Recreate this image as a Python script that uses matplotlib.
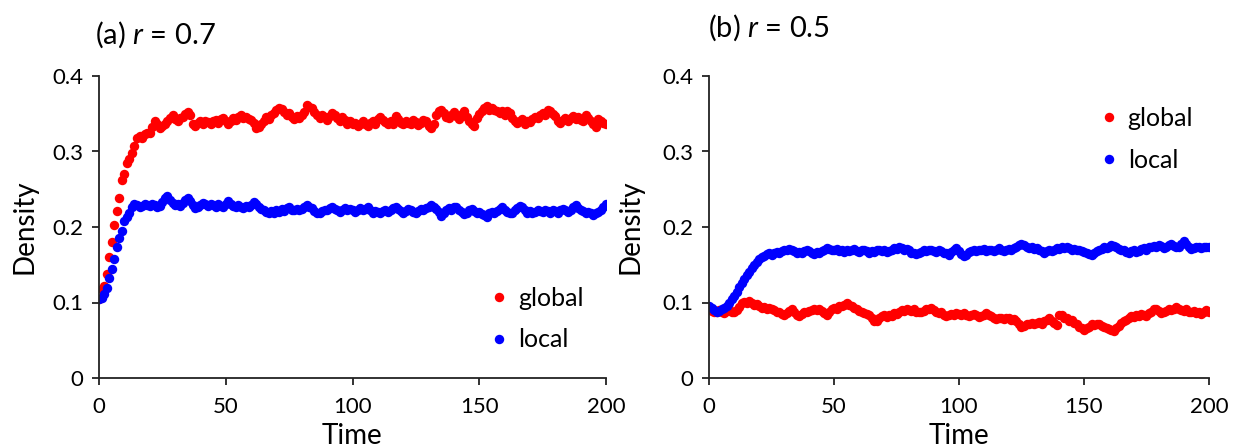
import numpy as np
import matplotlib
matplotlib.use("Agg")
import matplotlib.pyplot as plt

plt.rcParams['font.family'] = ['Lato', 'DejaVu Sans']
plt.rcParams['mathtext.fontset'] = 'custom'
plt.rcParams['mathtext.rm'] = 'Lato'
plt.rcParams['mathtext.it'] = 'Lato:italic'

time = np.arange(0, 201)

# (a) r = 0.7
global_a = [
    0.105, 0.118, 0.122, 0.138, 0.160, 0.180, 0.203, 0.221, 0.239, 0.262,
    0.270, 0.285, 0.290, 0.298, 0.307, 0.318, 0.320, 0.318, 0.323, 0.325,
    0.324, 0.333, 0.340, 0.336, 0.331, 0.334, 0.337, 0.341, 0.345, 0.348,
    0.343, 0.341, 0.344, 0.346, 0.350, 0.352, 0.349, 0.336, 0.334, 0.338,
    0.340, 0.337, 0.341, 0.339, 0.336, 0.340, 0.342, 0.338, 0.343, 0.345,
    0.341, 0.337, 0.340, 0.344, 0.342, 0.346, 0.348, 0.344, 0.346, 0.343,
    0.342, 0.338, 0.331, 0.333, 0.337, 0.341, 0.346, 0.343, 0.348, 0.351,
    0.355, 0.357, 0.356, 0.352, 0.348, 0.351, 0.346, 0.343, 0.347, 0.344,
    0.349, 0.352, 0.361, 0.359, 0.357, 0.352, 0.348, 0.345, 0.349, 0.346,
    0.342, 0.347, 0.351, 0.348, 0.344, 0.340, 0.346, 0.342, 0.337, 0.340,
    0.336, 0.338, 0.334, 0.336, 0.340, 0.337, 0.334, 0.338, 0.341, 0.337,
    0.343, 0.346, 0.342, 0.339, 0.336, 0.340, 0.337, 0.347, 0.343, 0.338,
    0.336, 0.341, 0.338, 0.336, 0.342, 0.339, 0.335, 0.338, 0.342, 0.340,
    0.334, 0.331, 0.337, 0.349, 0.353, 0.355, 0.351, 0.346, 0.344, 0.349,
    0.352, 0.347, 0.343, 0.350, 0.353, 0.346, 0.341, 0.337, 0.334, 0.345,
    0.350, 0.354, 0.358, 0.360, 0.355, 0.357, 0.355, 0.353, 0.351, 0.354,
    0.349, 0.353, 0.351, 0.345, 0.340, 0.338, 0.341, 0.343, 0.337, 0.340,
    0.339, 0.343, 0.346, 0.344, 0.348, 0.351, 0.349, 0.355, 0.353, 0.350,
    0.347, 0.341, 0.338, 0.342, 0.345, 0.341, 0.344, 0.347, 0.343, 0.346,
    0.342, 0.340, 0.349, 0.344, 0.341, 0.336, 0.333, 0.343, 0.340, 0.338,
    0.336,
]
local_a = [
    0.104, 0.106, 0.111, 0.119, 0.133, 0.145, 0.158, 0.174, 0.186, 0.195,
    0.208, 0.213, 0.219, 0.226, 0.231, 0.229, 0.226, 0.228, 0.231, 0.229,
    0.228, 0.230, 0.229, 0.226, 0.228, 0.233, 0.238, 0.241, 0.236, 0.232,
    0.229, 0.231, 0.228, 0.232, 0.236, 0.238, 0.234, 0.229, 0.225, 0.227,
    0.229, 0.232, 0.230, 0.228, 0.231, 0.229, 0.227, 0.230, 0.228, 0.226,
    0.231, 0.234, 0.231, 0.228, 0.226, 0.229, 0.227, 0.225, 0.228, 0.226,
    0.229, 0.233, 0.230, 0.226, 0.224, 0.223, 0.220, 0.218, 0.221, 0.219,
    0.222, 0.220, 0.224, 0.221, 0.225, 0.227, 0.223, 0.222, 0.224, 0.223,
    0.224, 0.226, 0.229, 0.227, 0.225, 0.221, 0.219, 0.218, 0.221, 0.223,
    0.222, 0.225, 0.227, 0.224, 0.222, 0.220, 0.223, 0.225, 0.222, 0.224,
    0.222, 0.220, 0.223, 0.225, 0.222, 0.224, 0.226, 0.222, 0.219, 0.221,
    0.220, 0.218, 0.221, 0.223, 0.220, 0.222, 0.225, 0.227, 0.224, 0.221,
    0.219, 0.221, 0.224, 0.222, 0.220, 0.218, 0.221, 0.224, 0.222, 0.225,
    0.227, 0.229, 0.226, 0.224, 0.220, 0.214, 0.218, 0.222, 0.225, 0.223,
    0.226, 0.227, 0.223, 0.220, 0.217, 0.219, 0.222, 0.224, 0.221, 0.219,
    0.220, 0.217, 0.216, 0.213, 0.218, 0.220, 0.218, 0.221, 0.224, 0.226,
    0.223, 0.220, 0.218, 0.219, 0.222, 0.225, 0.228, 0.226, 0.222, 0.219,
    0.221, 0.219, 0.220, 0.222, 0.221, 0.220, 0.222, 0.221, 0.219, 0.222,
    0.221, 0.219, 0.222, 0.224, 0.222, 0.220, 0.223, 0.227, 0.229, 0.225,
    0.222, 0.221, 0.219, 0.220, 0.218, 0.216, 0.218, 0.220, 0.223, 0.227,
    0.231,
]

# (b) r = 0.5
global_b = [
    0.092, 0.089, 0.087, 0.088, 0.090, 0.088, 0.086, 0.089, 0.091, 0.088,
    0.087, 0.090, 0.094, 0.099, 0.101, 0.100, 0.102, 0.099, 0.097, 0.098,
    0.095, 0.093, 0.094, 0.092, 0.093, 0.091, 0.090, 0.088, 0.087, 0.085,
    0.084, 0.086, 0.089, 0.091, 0.088, 0.084, 0.082, 0.085, 0.088, 0.087,
    0.089, 0.090, 0.092, 0.090, 0.091, 0.089, 0.086, 0.084, 0.087, 0.091,
    0.093, 0.092, 0.095, 0.096, 0.097, 0.099, 0.097, 0.095, 0.093, 0.091,
    0.089, 0.088, 0.086, 0.085, 0.083, 0.080, 0.076, 0.075, 0.079, 0.082,
    0.083, 0.081, 0.084, 0.082, 0.086, 0.085, 0.088, 0.090, 0.089, 0.091,
    0.090, 0.089, 0.091, 0.088, 0.087, 0.088, 0.089, 0.091, 0.092, 0.093,
    0.090, 0.088, 0.086, 0.087, 0.084, 0.082, 0.083, 0.085, 0.084, 0.086,
    0.085, 0.084, 0.086, 0.083, 0.082, 0.084, 0.085, 0.083, 0.081, 0.082,
    0.084, 0.086, 0.084, 0.082, 0.080, 0.078, 0.080, 0.079, 0.078, 0.080,
    0.079, 0.077, 0.078, 0.076, 0.072, 0.068, 0.069, 0.072, 0.071, 0.073,
    0.072, 0.073, 0.074, 0.072, 0.075, 0.077, 0.080, 0.076, 0.073, 0.070,
    0.084, 0.083, 0.080, 0.079, 0.076, 0.077, 0.073, 0.071, 0.068, 0.066,
    0.064, 0.066, 0.068, 0.071, 0.070, 0.072, 0.071, 0.069, 0.068, 0.066,
    0.065, 0.063, 0.062, 0.066, 0.069, 0.073, 0.076, 0.077, 0.079, 0.082,
    0.081, 0.083, 0.082, 0.085, 0.083, 0.082, 0.086, 0.088, 0.091, 0.092,
    0.089, 0.086, 0.087, 0.089, 0.091, 0.090, 0.092, 0.094, 0.092, 0.090,
    0.089, 0.091, 0.088, 0.087, 0.089, 0.086, 0.087, 0.085, 0.087, 0.090,
    0.088,
]
local_b = [
    0.096, 0.093, 0.090, 0.088, 0.089, 0.091, 0.093, 0.096, 0.100, 0.104,
    0.108, 0.114, 0.120, 0.126, 0.131, 0.137, 0.141, 0.146, 0.150, 0.153,
    0.157, 0.160, 0.162, 0.164, 0.165, 0.163, 0.165, 0.167, 0.166, 0.168,
    0.170, 0.169, 0.171, 0.170, 0.168, 0.166, 0.167, 0.165, 0.168, 0.170,
    0.168, 0.166, 0.164, 0.167, 0.165, 0.168, 0.170, 0.172, 0.171, 0.169,
    0.170, 0.171, 0.168, 0.169, 0.167, 0.170, 0.168, 0.169, 0.171, 0.168,
    0.167, 0.169, 0.170, 0.168, 0.166, 0.168, 0.167, 0.169, 0.170, 0.168,
    0.169, 0.167, 0.168, 0.170, 0.172, 0.171, 0.173, 0.172, 0.170, 0.171,
    0.169, 0.166, 0.165, 0.164, 0.166, 0.167, 0.169, 0.168, 0.170, 0.169,
    0.168, 0.167, 0.169, 0.168, 0.166, 0.165, 0.163, 0.167, 0.170, 0.172,
    0.168, 0.164, 0.161, 0.163, 0.167, 0.168, 0.170, 0.168, 0.169, 0.170,
    0.171, 0.168, 0.170, 0.169, 0.168, 0.170, 0.172, 0.170, 0.168, 0.169,
    0.171, 0.169, 0.172, 0.174, 0.176, 0.178, 0.176, 0.174, 0.172, 0.173,
    0.171, 0.172, 0.169, 0.168, 0.166, 0.168, 0.169, 0.168, 0.170, 0.172,
    0.171, 0.173, 0.172, 0.174, 0.172, 0.170, 0.171, 0.169, 0.170, 0.168,
    0.167, 0.166, 0.164, 0.163, 0.166, 0.168, 0.170, 0.171, 0.173, 0.172,
    0.174, 0.176, 0.175, 0.173, 0.171, 0.169, 0.170, 0.167, 0.166, 0.168,
    0.169, 0.167, 0.168, 0.171, 0.172, 0.170, 0.173, 0.174, 0.175, 0.173,
    0.176, 0.175, 0.172, 0.173, 0.176, 0.178, 0.175, 0.173, 0.174, 0.178,
    0.181, 0.177, 0.173, 0.171, 0.172, 0.174, 0.173, 0.172, 0.174, 0.173,
    0.173,
]

y_ticks = [0, 0.1, 0.2, 0.3, 0.4]
y_tick_labels = ["0", "0.1", "0.2", "0.3", "0.4"]
x_ticks = [0, 50, 100, 150, 200]
series_labels = ["global", "local"]
series_colors = ["#ff0000", "#0000ff"]

fig = plt.figure(figsize=(12.34, 4.48), dpi=100)

panels = [
    dict(rect=[99 / 1234, 1 - 378 / 448, 507 / 1234, 302 / 448],
         data=[global_a, local_a], title="(a) $r$ = 0.7", title_xy=(95, 35),
         ylab_x=38, leg_anchor=(0.775, 0.195)),
    dict(rect=[709 / 1234, 1 - 378 / 448, 500 / 1234, 302 / 448],
         data=[global_b, local_b], title="(b) $r$ = 0.5", title_xy=(708, 28),
         ylab_x=644, leg_anchor=(0.785, 0.79)),
]

for p in panels:
    ax = fig.add_axes(p["rect"])
    for vals, lab, col in zip(p["data"], series_labels, series_colors):
        ax.plot(time, vals, linestyle="none", marker="o", markersize=6.8,
                markeredgewidth=0, color=col, label=lab)
    ax.set_xlim(0, 200)
    ax.set_ylim(0, 0.4)
    ax.set_xticks(x_ticks)
    ax.set_yticks(y_ticks)
    ax.set_yticklabels(y_tick_labels)
    for s in ("top", "right"):
        ax.spines[s].set_visible(False)
    for s in ("left", "bottom"):
        ax.spines[s].set_linewidth(1.3)
        ax.spines[s].set_color("#222222")
    ax.tick_params(direction="out", length=5, width=1.3, color="#222222",
                   labelsize=16, pad=6)
    ax.tick_params(axis="x", pad=9)
    ax.set_xlabel("Time", fontsize=20)
    ax.set_ylabel("Density", fontsize=20)
    ax.yaxis.set_label_coords((p["ylab_x"] - p["rect"][0] * 1234) / (p["rect"][2] * 1234), 0.5)
    ax.xaxis.set_label_coords(0.5, -0.235)
    ax.xaxis.label.set_va("bottom")
    ax.legend(loc="center left", bbox_to_anchor=p["leg_anchor"],
              frameon=False, fontsize=18, handlelength=0.6,
              handletextpad=0.45, labelspacing=0.75, markerscale=1.0,
              borderaxespad=0, borderpad=0)
    tx, ty = p["title_xy"]
    fig.text(tx / 1234, 1 - ty / 448, p["title"], fontsize=21,
             ha="left", va="center")

fig.savefig("out.png", dpi=100)
